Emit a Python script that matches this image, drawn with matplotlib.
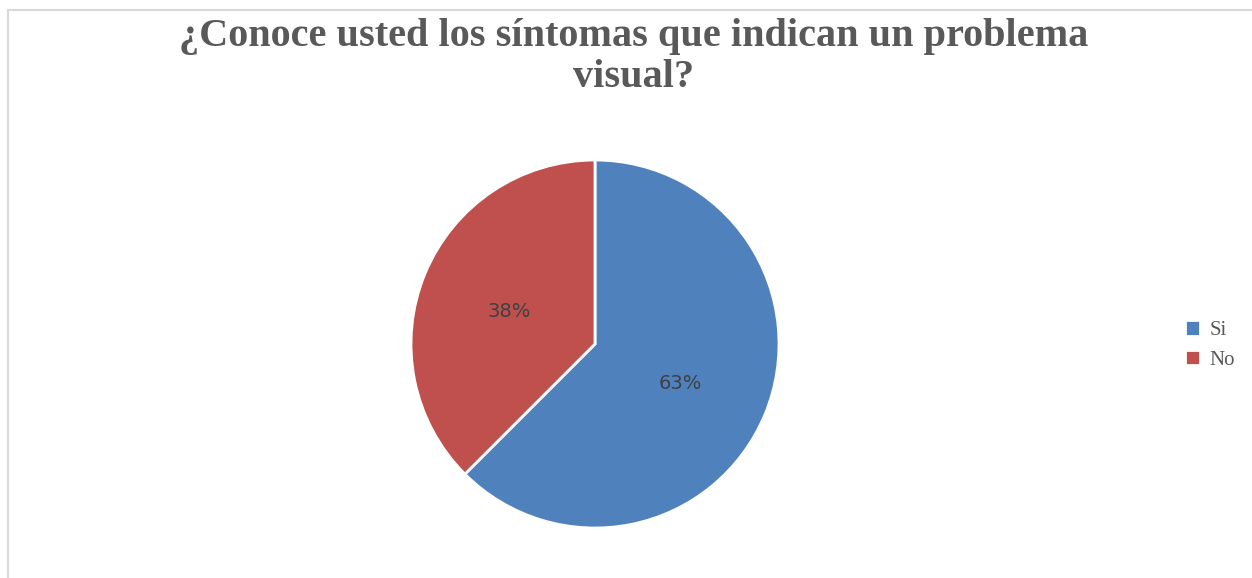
import matplotlib
matplotlib.use("Agg")
import matplotlib.pyplot as plt
from matplotlib.patches import Rectangle
import numpy as np

title = "¿Conoce usted los síntomas que indican un problema\nvisual?"
labels = ["Si", "No"]
values = [62.5, 37.5]
pct_labels = ["63%", "38%"]
colors = ["#4F81BD", "#C0504D"]
# where each percentage sits: (angle in degrees, fraction of radius)
label_spots = [(-24.6, 0.51), (159.0, 0.50)]

W, H = 1252, 578
fig = plt.figure(figsize=(W / 100, H / 100), dpi=100)
fig.patch.set_facecolor("white")

# faint chart frame
fig.patches.append(Rectangle((8 / W, -0.05), 1.1, 1 - 10 / H + 0.05,
                             transform=fig.transFigure, fill=False,
                             edgecolor="#D9D9D9", linewidth=1.5))

ax = fig.add_axes([411 / W, 50 / H, 368 / W, 368 / H])
wedges, _ = ax.pie(values, colors=colors, startangle=90, counterclock=False,
                   radius=1.0, wedgeprops=dict(edgecolor="white", linewidth=2))
ax.set_xlim(-1.0, 1.0)
ax.set_ylim(-1.0, 1.0)
ax.set_aspect("equal")
ax.axis("off")

for txt, (ang, r) in zip(pct_labels, label_spots):
    a = np.deg2rad(ang)
    ax.text(r * np.cos(a), r * np.sin(a), txt, ha="center", va="center",
            fontsize=14, color="#404040", family="DejaVu Sans")

fig.text(634 / W, 1 - 57 / H, title, ha="center", va="center",
         fontsize=29, fontweight="bold", color="#595959",
         family="Liberation Serif", linespacing=1.12)

fig.legend(wedges, labels, loc="center left", bbox_to_anchor=(1166 / W, 1 - 345 / H),
           frameon=False, handlelength=0.75, handleheight=0.75, handletextpad=0.45,
           labelspacing=0.45, prop=dict(family="Liberation Serif", size=15),
           labelcolor="#595959")

fig.savefig("out.png", dpi=100, facecolor="white")
